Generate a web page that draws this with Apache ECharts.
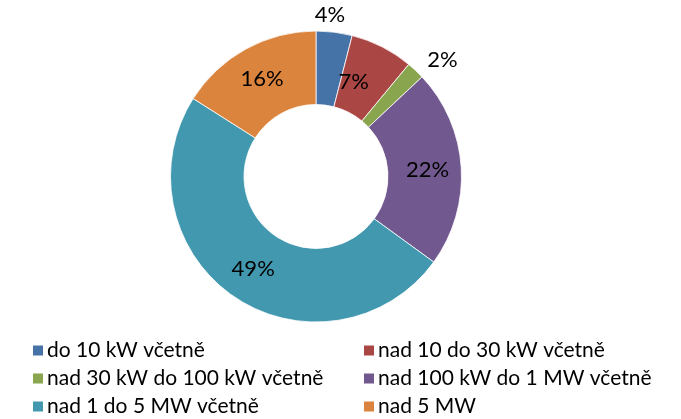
<!DOCTYPE html>
<html>
<head>
<meta charset="utf-8">
<script src="https://cdn.jsdelivr.net/npm/echarts@6/dist/echarts.min.js"></script>
<style>
  html, body { margin: 0; padding: 0; background: #fff; }
  #chart { width: 681px; height: 419px; }
</style>
</head>
<body>
<div id="chart"></div>
<script>
var categories = ['do 10 kW včetně', 'nad 10 do 30 kW včetně', 'nad 30 kW do 100 kW včetně',
    'nad 100 kW do 1 MW včetně', 'nad 1 do 5 MW včetně', 'nad 5 MW'];
var values = [4, 7, 2, 22, 49, 16];
var colors = ['#4572A7', '#AA4643', '#89A54E', '#71588F', '#4198AF', '#DB843D'];
// nudge labels to where the original put them (small slices go outside the ring)
var labelOffsets = [[0, -51], [-13, 5], [50, -35], null, null, null];

var font = 'Lato, "Open Sans", sans-serif';
var mychart = echarts.init(document.getElementById('chart'));

var pieData = categories.map(function (name, i) {
    var item = { name: name, value: values[i], itemStyle: { color: colors[i] } };
    if (labelOffsets[i]) item.label = { offset: labelOffsets[i] };
    return item;
});

function legendFor(idx, left) {
    return {
        orient: 'vertical',
        left: left,
        top: 335,
        height: 120,
        itemWidth: 12,
        itemHeight: 12,
        itemGap: 7,
        icon: 'rect',
        selectedMode: false,
        data: idx.map(function (i) { return categories[i]; }),
        textStyle: { fontFamily: font, fontSize: 21, color: '#000', padding: [0, 0, 0, -2] }
    };
}

mychart.setOption({
    animation: false,
    legend: [legendFor([0, 2, 4], 26), legendFor([1, 3, 5], 357)],
    series: [{
        type: 'pie',
        center: [316, 176.5],
        radius: [72, 145.5],
        startAngle: 90,
        clockwise: true,
        data: pieData,
        itemStyle: { borderColor: '#fff', borderWidth: 0.8 },
        label: {
            position: 'inside',
            formatter: '{c}%',
            fontFamily: font,
            fontSize: 22,
            color: '#000'
        },
        labelLine: { show: false },
        emphasis: { disabled: true }
    }]
});
window.addEventListener('resize', function () { mychart.resize(); });
</script>
</body>
</html>
